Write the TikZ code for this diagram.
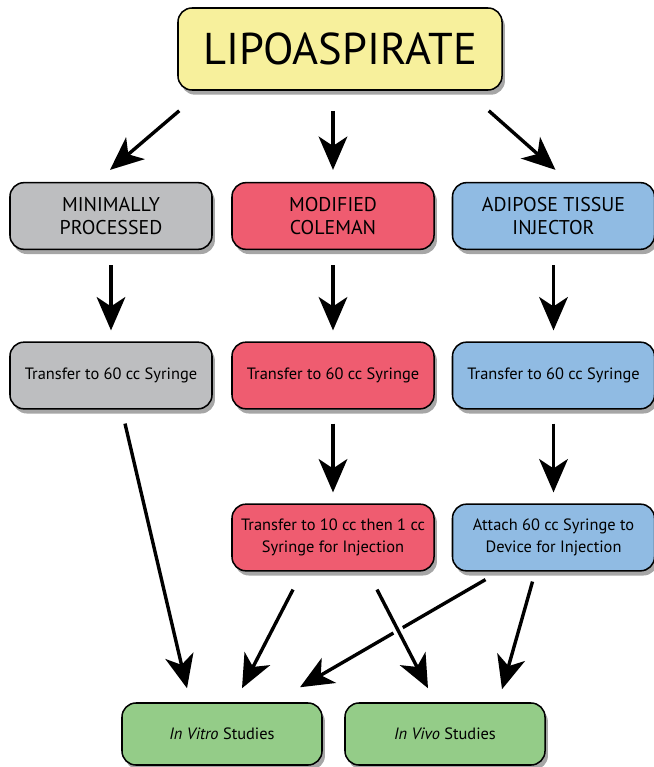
\documentclass[tikz,border=0pt]{standalone}
\usepackage{fontspec}
\setmainfont{PT Sans}
\usetikzlibrary{arrows.meta,shadows,calc,positioning}

\definecolor{lipoyellow}{HTML}{F7F09C}
\definecolor{mingray}{HTML}{BDBEC0}
\definecolor{modred}{HTML}{EF5C70}
\definecolor{atiblue}{HTML}{90BBE3}
\definecolor{studgreen}{HTML}{94CC88}

\begin{document}
\begin{tikzpicture}[x=0.03cm, y=-0.03cm,
    box/.style={draw=black, line width=1.3pt, rounded corners=0.42cm, align=center,
      minimum width=6.06cm, minimum height=2.0cm, inner sep=0pt,
      font=\fontsize{17}{20}\selectfont,
      drop shadow={shadow xshift=2.5pt, shadow yshift=-4pt, fill=black, opacity=0.35}},
    stepbox/.style={box, font=\fontsize{14}{19}\selectfont},
    flow/.style={line width=2.9pt, -{Stealth[length=1.0cm, width=0.86cm, inset=0.28cm]}}
  ]
\useasboundingbox (0,0) rectangle (654,767);

% Source
\node[box, fill=lipoyellow, minimum width=9.72cm, minimum height=2.46cm,
      font=\fontsize{38}{42}\selectfont] (lipo) at (340,49) {LIPOASPIRATE};

% Processing methods
\node[box, fill=mingray] (min) at (111,216) {MINIMALLY\\PROCESSED};
\node[box, fill=modred] (mod) at (333,216) {MODIFIED\\COLEMAN};
\node[box, fill=atiblue] (ati) at (553.5,216) {ADIPOSE TISSUE\\INJECTOR};

% Syringe transfer
\node[stepbox, fill=mingray] (min2) at (111,375.5) {Transfer to 60 cc Syringe};
\node[stepbox, fill=modred] (mod2) at (333,375.5) {Transfer to 60 cc Syringe};
\node[stepbox, fill=atiblue] (ati2) at (553.5,375.5) {Transfer to 60 cc Syringe};

% Injection preparation
\node[stepbox, fill=modred] (mod3) at (333,537.5) {Transfer to 10 cc then 1 cc\\Syringe for Injection};
\node[stepbox, fill=atiblue] (ati3) at (553.5,537.5) {Attach 60 cc Syringe to\\Device for Injection};

% Studies
\node[stepbox, fill=studgreen, minimum width=6.0cm, minimum height=1.86cm] (vitro) at (222,734) {\textit{In Vitro} Studies};
\node[stepbox, fill=studgreen, minimum width=6.0cm, minimum height=1.86cm] (vivo) at (445,734) {\textit{In Vivo} Studies};

% Arrows from the lipoaspirate
\draw[flow] ($(lipo.south west)+(2,20)$) -- ($(min.north)+(-1,-12)$);
\draw[flow] ($(lipo.south -| mod.north)+(0,20)$) -- ($(mod.north)+(0,-12)$);
\draw[flow] ($(lipo.south east)+(-14,20)$) -- ($(ati.north)+(2,-12)$);

% Down each column
\foreach \col in {min,mod,ati} {
  \draw[flow] ($(\col.south)+(0,15)$) -- ($(\col2.north)+(0,-11)$);
}
\draw[flow] ($(mod2.south)+(0,14)$) -- ($(mod3.north)+(0,-11)$);
\draw[flow] ($(ati2.south)+(0,14)$) -- ($(ati3.north)+(0,-11)$);

% To the studies
\draw[flow] ($(min2.south)+(14,14)$) -- ($(vitro.north)+(-35,-14)$);
\draw[flow] ($(mod3.south)+(-40,18)$) -- ($(vitro.north)+(20,-14)$);
\draw[flow] ($(ati3.south)+(-68,8)$) -- ($(vitro.north)+(78,-15)$);
\draw[flow, preaction={draw=white, line width=9pt, -}] ($(mod3.south)+(44,18)$) -- ($(vivo.north)+(-17,-14)$);
\draw[flow] ($(ati3.south)+(-21,10)$) -- ($(vivo.north)+(57,-13)$);

\end{tikzpicture}
\end{document}
